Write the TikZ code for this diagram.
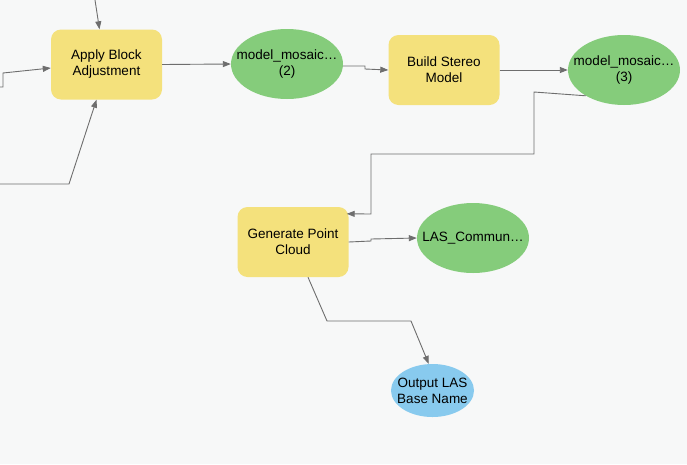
\documentclass[tikz,border=0pt]{standalone}
\usepackage{fontspec}
\setmainfont{Liberation Sans}
\usetikzlibrary{shapes.geometric,arrows.meta}
\definecolor{bgc}{HTML}{F7F8F8}
\definecolor{toolc}{HTML}{F4E17C}
\definecolor{datac}{HTML}{85CC7B}
\definecolor{paramc}{HTML}{88CAEE}
\definecolor{linec}{HTML}{6E6E6E}
\newcommand{\zl}[1]{\makebox[0pt][c]{#1}}
\tikzset{
  tool/.style={fill=toolc, rounded corners=10pt, minimum width=111pt, minimum height=70pt, inner sep=0pt, align=center, font=\fontsize{13.5}{16}\selectfont},
  data/.style={ellipse, fill=datac, minimum width=112pt, minimum height=70pt, inner sep=0pt, align=center, font=\fontsize{13.5}{16}\selectfont},
  param/.style={ellipse, fill=paramc, minimum width=83pt, minimum height=53pt, inner sep=0pt, align=center, font=\fontsize{13.5}{16}\selectfont},
  conn/.style={draw=linec, line width=0.9pt, -{Triangle[length=8pt,width=6pt]}},
}
\begin{document}
\begin{tikzpicture}[x=1pt,y=-1pt]
\useasboundingbox (0,0) rectangle (687,464);
\fill[bgc] (0,0) rectangle (687,464);

\node[tool] (apply) at (106.5,64.5) {Apply Block\\Adjustment};
\node[data] (m2) at (287,64) {\zl{model\_mosaic…}\\\zl{(2)}};
\node[tool] (build) at (444,70) {Build Stereo\\Model};
\node[data] (m3) at (624,70) {\zl{model\_mosaic…}\\\zl{(3)}};
\node[tool] (gen) at (293,242) {Generate Point\\Cloud};
\node[data] (las) at (473,238) {\zl{LAS\_Commun…}};
\node[param] (out) at (432.5,390.5) {\zl{Output LAS}\\\zl{Base Name}};

\coordinate (intop) at (95,0);
\coordinate (inleft) at (0,87);
\coordinate (inbot) at (0,184);

\draw[conn] (intop) -- ([xshift=-7pt]apply.north);
\draw[conn] (inleft) -- (3,87) -- (3,73) -- ([yshift=-3.5pt]apply.west);
\draw[conn] (inbot) -- (69,184) -- ([xshift=-10pt]apply.south);
\draw[conn] (apply.east) -- (m2.west);
\draw[conn] ([yshift=-2pt]m2.east) -- (365,66) -- (365,69) -- (build.west);
\draw[conn] (build.east) -- (m3.west);
\draw[conn] (m3.214) -- (534,92) -- (534,154) -- (371,154) -- (371,214) -- ([shift={(-2pt,-7pt)}]gen.north east);
\draw[conn] (gen.east) -- (371,241) -- (371,239) -- (las.west);
\draw[conn] ([xshift=15pt]gen.south) -- (327,321) -- (411,321) -- (out.98);
\end{tikzpicture}
\end{document}
